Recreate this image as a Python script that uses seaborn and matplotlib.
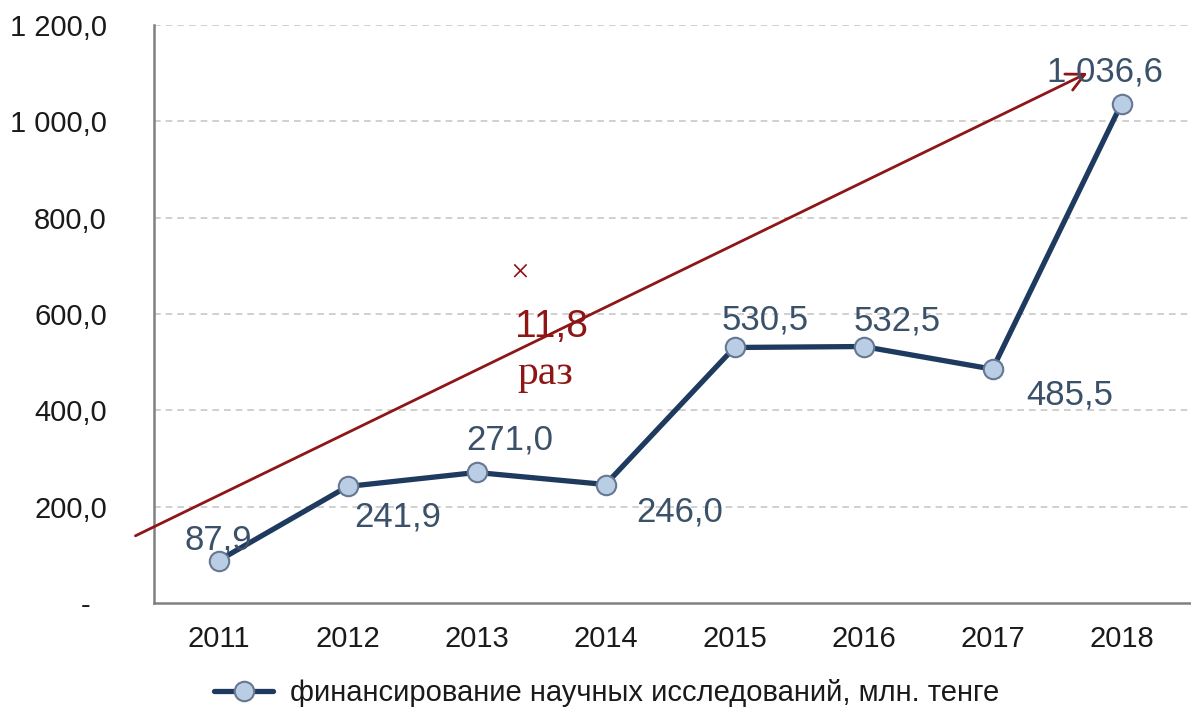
import matplotlib
matplotlib.use('Agg')
import matplotlib.pyplot as plt
import seaborn as sns
import numpy as np
import pandas as pd

years = ['2011', '2012', '2013', '2014', '2015', '2016', '2017', '2018']
funding = [87.9, 241.9, 271.0, 246.0, 530.5, 532.5, 485.5, 1036.6]
label_offsets = [(0, 21), (50, -31), (33, 32), (74, -27), (31, 27), (34, 26), (77, -26), (-17, 32)]
series_name = 'финансирование научных исследований, млн. тенге'
y_ticks = [0, 200, 400, 600, 800, 1000, 1200]

line_col = '#1F3A5F'
label_col = '#3A5169'
red = '#8E1616'


def fmt(v):
    if v == 0:
        return '-  '
    return f'{v:,.1f}'.replace(',', ' ').replace('.', ',')


sns.set_style('white')
plt.rcParams['font.family'] = ['Liberation Sans', 'DejaVu Sans']

df = pd.DataFrame({'year': years, 'value': funding})

fig = plt.figure(figsize=(11.91, 7.09), dpi=100)
ax = fig.add_axes([154 / 1191, 106 / 709, 1037 / 1191, 578 / 709])

sns.lineplot(data=df, x='year', y='value', ax=ax, color=line_col, lw=3.8,
             marker='o', markersize=14, markerfacecolor='#B9CDE5',
             markeredgecolor='#667891', markeredgewidth=1.5, label=series_name,
             sort=False, zorder=4)

ax.set_xlim(-0.5, -0.5 + 1037 / 129)
ax.set_ylim(0, 1200)
ax.set_xlabel('')
ax.set_ylabel('')

ax.set_yticks(y_ticks)
ax.set_yticklabels([fmt(v) for v in y_ticks])
ax.set_xticks(range(len(years)))
ax.set_xticklabels(years)
ax.set_xticks(np.arange(-0.5, len(years)), minor=True)
ax.tick_params(axis='x', which='major', length=0, pad=16, labelsize=21, labelcolor='#1a1a1a')
ax.tick_params(axis='x', which='minor', length=5, width=1.5, color='#808080', direction='out')
ax.tick_params(axis='y', length=5, width=1.5, color='#808080', direction='out', pad=29,
               labelsize=21, labelcolor='#1a1a1a')

for y in y_ticks[1:]:
    ax.axhline(y, color='#C8C8C8', lw=1.2, ls=(0, (4, 3)), zorder=1)

sns.despine(ax=ax)
for side in ['left', 'bottom']:
    ax.spines[side].set_color('#808080')
    ax.spines[side].set_linewidth(1.8)

for i, (v, off) in enumerate(zip(funding, label_offsets)):
    ax.annotate(fmt(v), (i, v), xytext=off, textcoords='offset pixels',
                ha='center', va='center', fontsize=25, color=label_col, zorder=5)

# growth arrow
ax.annotate('', xy=(6.756, 1103), xytext=(-0.663, 137),
            arrowprops=dict(arrowstyle='->', color=red, lw=2, mutation_scale=32),
            annotation_clip=False, zorder=3)
ax.text(2.337, 685, '×', fontsize=24, color=red, ha='center', va='center',
        family=['Liberation Serif', 'DejaVu Serif'])
ax.text(2.585, 572, '11,8', fontsize=28, color=red, ha='center', va='center')
ax.text(2.53, 475, 'раз', fontsize=30, color=red, ha='center', va='center',
        family=['Liberation Serif', 'DejaVu Serif'])

leg = ax.legend(loc='center', bbox_to_anchor=(607 / 1191, 16 / 709), bbox_transform=fig.transFigure,
                frameon=False, fontsize=21, handlelength=2.0, handletextpad=0.6)
for t in leg.get_texts():
    t.set_color('#1a1a1a')

fig.savefig('out.png', dpi=100)
